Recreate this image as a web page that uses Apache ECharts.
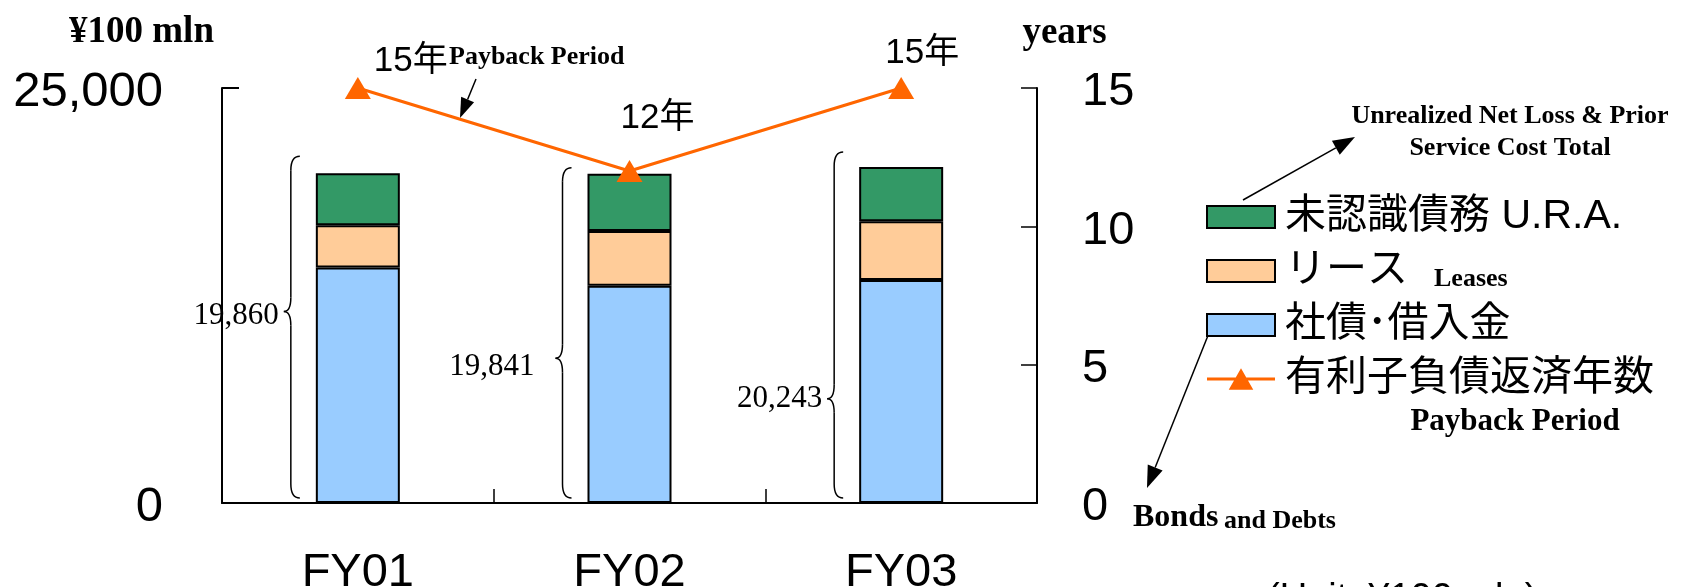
<!DOCTYPE html>
<html>
<head>
<meta charset="utf-8">
<script src="https://cdn.jsdelivr.net/npm/echarts@6/dist/echarts.min.js"></script>
<style>
  html, body { margin: 0; padding: 0; background: #fff; }
  #chart { width: 1689px; height: 587px; }
</style>
</head>
<body>
<div id="chart"></div>
<script>
// Fiscal years on the category axis
const categories = ['FY01', 'FY02', 'FY03'];
// Interest-bearing debt breakdown (¥100 mln), bottom to top of each stack
const bondsDebts = [14190, 13080, 13440];     // 社債･借入金
const leases = [2540, 3310, 3530];            // リース
const unrecognized = [3130, 3451, 3273];      // 未認識債務
// Stack totals stated beside each bar
const totals = [19860, 19841, 20243];
// Payback period (years), right axis
const paybackYears = [15, 12, 15];
// Axis scales
const leftAxisMax = 25000;
const rightAxisMax = 15;
const rightAxisStep = 5;

// Layout / styling constants
const SANS = '"Liberation Sans", "Noto Sans CJK JP", sans-serif';
const SERIF = '"Liberation Serif", "Times New Roman", serif';
const BAR_W = 84;
const yearLabelOffset = [[53, -27], [28, -53], [21, -35]];
const braceTopGap = [17, 6, 15];
const braceCusp = [0.454, 0.577, 0.713];
const braceLabelGap = [5, 21, 5];
const braceLabelDy = [4, 9, 0];
// Legend icon for the payback line: a bar of line with a triangle on it
const LINE_ICON = 'path://M0,10 L72,10 L72,13 L0,13 Z M36,0 L49,23 L23,23 Z';

const fmt = v => v.toLocaleString('en-US');

// Curly brace drawn to the left of each stacked bar, with the total beside it
function renderBrace(params, api) {
  const i = api.value(0);
  const total = api.value(1);
  const pTop = api.coord([i, total]);
  const pBase = api.coord([i, 0]);
  const xr = pTop[0] - BAR_W / 2 - 16;
  const xm = xr - 9;
  const xl = xr - 16;
  const yT = pTop[1] - braceTopGap[i];
  const yB = pBase[1] - 5;
  const yc = yT + (yB - yT) * braceCusp[i];
  const r = 14;
  const st = { stroke: '#000', lineWidth: 1.5, fill: null };
  return {
    type: 'group',
    children: [
      { type: 'bezierCurve', shape: { x1: xr, y1: yT, cpx1: xm, cpy1: yT, x2: xm, y2: yT + r }, style: st },
      { type: 'line', shape: { x1: xm, y1: yT + r, x2: xm, y2: yc - r }, style: st },
      { type: 'bezierCurve', shape: { x1: xm, y1: yc - r, cpx1: xm, cpy1: yc, x2: xl, y2: yc }, style: st },
      { type: 'bezierCurve', shape: { x1: xl, y1: yc, cpx1: xm, cpy1: yc, x2: xm, y2: yc + r }, style: st },
      { type: 'line', shape: { x1: xm, y1: yc + r, x2: xm, y2: yB - r }, style: st },
      { type: 'bezierCurve', shape: { x1: xm, y1: yB - r, cpx1: xm, cpy1: yB, x2: xr, y2: yB }, style: st },
      {
        type: 'text',
        x: xl - braceLabelGap[i],
        y: yc + braceLabelDy[i],
        style: {
          text: fmt(total), font: '31px ' + SERIF, fill: '#000',
          align: 'right', verticalAlign: 'middle', textAlign: 'right', textVerticalAlign: 'middle'
        }
      }
    ]
  };
}

// Straight pointer line with a filled arrowhead at (x2, y2)
function arrow(x1, y1, x2, y2, headLen, headW) {
  const dx = x2 - x1, dy = y2 - y1;
  const len = Math.hypot(dx, dy);
  const ux = dx / len, uy = dy / len;
  const bx = x2 - ux * headLen, by = y2 - uy * headLen;
  const px = -uy * headW / 2, py = ux * headW / 2;
  return [
    { type: 'line', shape: { x1, y1, x2: bx, y2: by }, style: { stroke: '#000', lineWidth: 1.5 }, silent: true },
    { type: 'polygon', shape: { points: [[x2, y2], [bx + px, by + py], [bx - px, by - py]] }, style: { fill: '#000' }, silent: true }
  ];
}

function txt(x, y, text, font, align, vAlign) {
  return {
    type: 'text', x, y, silent: true,
    style: {
      text, font, fill: '#000',
      align, verticalAlign: vAlign, textAlign: align, textVerticalAlign: vAlign
    }
  };
}

const chart = echarts.init(document.getElementById('chart'), null, { renderer: 'canvas' });

const option = {
  backgroundColor: '#ffffff',
  animation: false,
  grid: {
    left: 222, right: 652, top: 88, bottom: 84,
    containLabel: false, outerBoundsMode: 'none'
  },
  legend: {
    orient: 'vertical',
    left: 1201,
    top: 191,
    itemWidth: 68,
    itemHeight: 22,
    itemGap: 12,
    selectedMode: false,
    data: [
      { name: '未認識債務', icon: 'rect' },
      { name: 'リース', icon: 'rect' },
      { name: '社債･借入金', icon: 'rect' },
      { name: '有利子負債返済年数', icon: LINE_ICON }
    ],
    formatter: name => {
      if (name === '未認識債務') return '未認識債務 U.R.A.';
      if (name === 'リース') return 'リース{en|Leases}';
      return name;
    },
    textStyle: {
      fontSize: 41,
      fontFamily: SANS,
      color: '#000',
      lineHeight: 42,
      padding: [0, 0, 0, 5],
      rich: {
        en: {
          fontFamily: SERIF, fontWeight: 'bold', fontSize: 26, color: '#000',
          padding: [0, 0, 0, 26], verticalAlign: 'bottom', lineHeight: 40
        }
      }
    }
  },
  xAxis: {
    type: 'category',
    data: categories,
    axisLine: { show: true, lineStyle: { color: '#000', width: 2 } },
    axisTick: { show: true, inside: true, length: 14, lineStyle: { color: '#000', width: 1.5 } },
    axisLabel: { fontSize: 47, fontFamily: SANS, color: '#000', margin: 47 },
    splitLine: { show: false }
  },
  yAxis: [
    {
      type: 'value',
      min: 0, max: leftAxisMax, interval: leftAxisMax,
      name: '¥100 mln',
      nameLocation: 'end',
      nameGap: 37,
      nameTextStyle: {
        fontFamily: SERIF, fontWeight: 'bold', fontSize: 37, color: '#000',
        align: 'center', padding: [0, 161, 0, 0]
      },
      axisLine: { show: true, lineStyle: { color: '#000', width: 2 } },
      axisTick: { show: true, inside: true, length: 17, lineStyle: { color: '#000', width: 2 } },
      axisLabel: {
        fontSize: 49, fontFamily: SANS, color: '#000', margin: 59,
        verticalAlign: 'top', lineHeight: 9, formatter: v => fmt(v)
      },
      splitLine: { show: false }
    },
    {
      type: 'value',
      position: 'right',
      min: 0, max: rightAxisMax, interval: rightAxisStep,
      name: 'years',
      nameLocation: 'end',
      nameGap: 36,
      nameTextStyle: {
        fontFamily: SERIF, fontWeight: 'bold', fontSize: 37, color: '#000',
        align: 'center', padding: [0, 0, 0, 55]
      },
      axisLine: { show: true, lineStyle: { color: '#000', width: 2 } },
      axisTick: { show: true, inside: true, length: 16, lineStyle: { color: '#000', width: 1.5 } },
      axisLabel: {
        fontSize: 47, fontFamily: SANS, color: '#000', margin: 45,
        verticalAlign: 'top', lineHeight: 9
      },
      splitLine: { show: false }
    }
  ],
  series: [
    {
      name: '社債･借入金', type: 'bar', stack: 'debt', barWidth: BAR_W,
      data: bondsDebts,
      itemStyle: { color: '#99CCFF', borderColor: '#000', borderWidth: 2 }
    },
    {
      name: 'リース', type: 'bar', stack: 'debt', barWidth: BAR_W,
      data: leases,
      itemStyle: { color: '#FFCC99', borderColor: '#000', borderWidth: 2 }
    },
    {
      name: '未認識債務', type: 'bar', stack: 'debt', barWidth: BAR_W,
      data: unrecognized,
      itemStyle: { color: '#339966', borderColor: '#000', borderWidth: 2 }
    },
    {
      name: 'braces', type: 'custom', silent: true,
      xAxisIndex: 0, yAxisIndex: 0,
      data: totals.map((v, i) => [i, v]),
      encode: { x: 0, y: 1 },
      renderItem: renderBrace,
      z: 1
    },
    {
      name: '有利子負債返済年数', type: 'line', yAxisIndex: 1,
      data: paybackYears.map((v, i) => ({ value: v, label: { offset: yearLabelOffset[i] } })),
      symbol: 'triangle',
      symbolSize: [26, 22],
      lineStyle: { color: '#FF6600', width: 3 },
      itemStyle: { color: '#FF6600', borderWidth: 0 },
      label: {
        show: true, position: 'inside',
        formatter: p => p.value + '年',
        fontSize: 35, fontFamily: SANS, color: '#000'
      },
      z: 5
    }
  ],
  graphic: [
    txt(449, 57, 'Payback Period', 'bold 26px ' + SERIF, 'left', 'middle'),
    ...arrow(476, 79, 460, 118, 20, 14),
    {
      type: 'text', x: 1510, y: 132, silent: true,
      style: {
        text: 'Unrealized Net Loss & Prior\nService Cost Total',
        font: 'bold 26px ' + SERIF, fill: '#000', lineHeight: 32,
        align: 'center', verticalAlign: 'middle', textAlign: 'center', textVerticalAlign: 'middle'
      }
    },
    ...arrow(1243, 200, 1355, 137, 22, 16),
    txt(1515, 422, 'Payback Period', 'bold 31px ' + SERIF, 'center', 'middle'),
    ...arrow(1211, 328, 1147, 488, 22, 16),
    txt(1133, 534, 'Bonds', 'bold 32px ' + SERIF, 'left', 'bottom'),
    txt(1224, 534, 'and Debts', 'bold 26px ' + SERIF, 'left', 'bottom'),
    txt(1267, 581, '(Unit: ¥100 mln)', '38px ' + SANS, 'left', 'top')
  ]
};

chart.setOption(option);
</script>
</body>
</html>
